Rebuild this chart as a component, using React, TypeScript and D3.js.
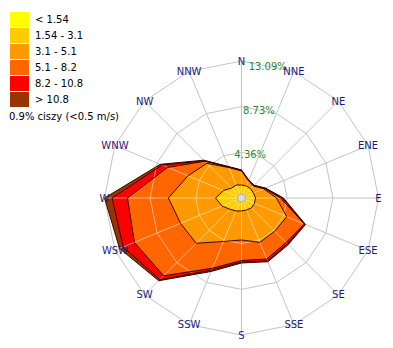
import React from "react";
import * as d3 from "d3";

const DIRECTIONS = ["N", "NNE", "NE", "ENE", "E", "ESE", "SE", "SSE", "S", "SSW", "SW", "WSW", "W", "WNW", "NW", "NNW"];
const CLASS_LABELS = ["< 1.54", "1.54 - 3.1", "3.1 - 5.1", "5.1 - 8.2", "8.2 - 10.8", "> 10.8"];
const CLASS_COLORS = ["#FFFF00", "#FFCC00", "#FF9900", "#FF6600", "#FF0000", "#993300"];

// frequency (%) per direction for each speed class
const CLASS_1 = [0.33, 0.33, 0.33, 0.33, 0.36, 0.36, 0.33, 0.33, 0.33, 0.33, 0.36, 0.36, 0.4, 0.36, 0.33, 0.33];
const CLASS_2 = [0.91, 0.91, 0.91, 0.91, 0.98, 0.98, 1.01, 0.91, 0.91, 1.01, 1.17, 1.65, 2.08, 1.5, 1.01, 1.01];
const CLASS_3 = [1.34, 0.53, 0.38, 1.05, 2.0, 3.34, 3.15, 3.35, 2.77, 3.15, 4.59, 4.3, 4.5, 3.68, 3.34, 1.81];
const CLASS_4 = [0.05, 0.03, 0.03, 0.1, 0.39, 1.82, 1.53, 1.72, 1.96, 2.77, 4.39, 4.77, 3.91, 2.1, 0.29, 0.05];
const CLASS_5 = [0.03, 0.02, 0.03, 0.05, 0.19, 0.06, 0.19, 0.19, 0.15, 0.19, 0.53, 1.15, 1.48, 0.58, 0.07, 0.03];
const CLASS_6 = [0.02, 0.01, 0.04, 0.04, 0.09, 0.06, 0.1, 0.09, 0.09, 0.15, 0.14, 0.38, 0.72, 0.19, 0.07, 0.02];

const RING_VALUES = [4.36, 8.73, 13.09];
const RING_LABELS = ["4.36%", "8.73%", "13.09%"];
const CALM_TEXT = "0.9% ciszy (<0.5 m/s)";

const FONT = "'DejaVu Sans', Verdana, sans-serif";

export default function App() {
  const width = 393;
  const height = 348;
  const cx = 241.5;
  const cy = 198;
  const R = 137;
  const n = DIRECTIONS.length;
  const step = (2 * Math.PI) / n;

  const r = d3.scaleLinear().domain([0, RING_VALUES[RING_VALUES.length - 1]]).range([0, R]);
  const series = [CLASS_1, CLASS_2, CLASS_3, CLASS_4, CLASS_5, CLASS_6];
  const cumulative = series.map((_, k) =>
    d3.range(n).map((i) => d3.sum(series.slice(0, k + 1), (s) => s[i]))
  );

  const radial = d3
    .lineRadial<number>()
    .angle((_, i) => i * step)
    .radius((d) => r(d))
    .curve(d3.curveLinearClosed);

  const ringPath = (v: number) => radial(d3.range(n).map(() => v)) as string;
  const outerPath = radial(cumulative[cumulative.length - 1]) as string;

  const pt = (ang: number, rad: number): [number, number] => [
    rad * Math.sin(ang),
    -rad * Math.cos(ang),
  ];

  const grid = (stroke: string, opacity: number) => (
    <g stroke={stroke} strokeOpacity={opacity} fill="none" strokeWidth={1}>
      {RING_VALUES.map((v, i) => (
        <path key={"ring" + i} d={ringPath(v)} />
      ))}
      {DIRECTIONS.map((d, i) => {
        const [x, y] = pt(i * step, R);
        return <line key={"sp" + d} x1={0} y1={0} x2={x} y2={y} />;
      })}
    </g>
  );

  return (
    <svg
      width={width}
      height={height}
      style={{ position: "absolute", left: 0, top: 0, display: "block", background: "#fff" }}
    >
      <defs>
        <clipPath id="roseClip">
          <path d={outerPath} transform={`translate(${cx},${cy})`} />
        </clipPath>
      </defs>
      <g transform={`translate(${cx},${cy})`}>
        {grid("#c4c4c4", 1)}
        {cumulative
          .map((vals, k) => ({ vals, k }))
          .reverse()
          .map(({ vals, k }) => (
            <path key={"f" + k} d={radial(vals) as string} fill={CLASS_COLORS[k]} stroke="none" />
          ))}
      </g>
      <g clipPath="url(#roseClip)">
        <g transform={`translate(${cx},${cy})`}>{grid("#ffffff", 0.5)}</g>
      </g>
      <g transform={`translate(${cx},${cy})`}>
        {cumulative.slice(1).map((vals, k) => (
          <path
            key={"o" + k}
            d={radial(vals) as string}
            fill="none"
            stroke="#3a0800"
            strokeWidth={1}
            strokeLinejoin="round"
          />
        ))}
        <circle r={4} fill="#dcdcdc" stroke="#a8a8a8" strokeWidth={1} />
        {RING_VALUES.map((v, i) => {
          const rr = r(v) * Math.cos(step / 2);
          const [x, y] = pt(step / 2, rr);
          return (
            <text
              key={"rl" + i}
              x={x}
              y={y}
              textAnchor="middle"
              dominantBaseline="central"
              fontFamily={FONT}
              fontSize={10}
              fill="#2a8a2a"
            >
              {RING_LABELS[i]}
            </text>
          );
        })}
        {DIRECTIONS.map((d, i) => {
          const [x, y] = pt(i * step, R);
          return (
            <text
              key={"dl" + d}
              x={x}
              y={y}
              textAnchor="middle"
              dominantBaseline="central"
              fontFamily={FONT}
              fontSize={10}
              fill="#1c1c78"
            >
              {d}
            </text>
          );
        })}
      </g>
      <g>
        {CLASS_LABELS.map((lab, i) => (
          <g key={"lg" + i} transform={`translate(10,${12 + i * 16})`}>
            <rect x={0} y={0} width={19} height={15} fill={CLASS_COLORS[i]} />
            <text
              x={25}
              y={7.5}
              dominantBaseline="central"
              fontFamily={FONT}
              fontSize={10}
              fill="#000"
            >
              {lab}
            </text>
          </g>
        ))}
        <text x={9} y={116} dominantBaseline="central" fontFamily={FONT} fontSize={10} fill="#000">
          {CALM_TEXT}
        </text>
      </g>
    </svg>
  );
}
